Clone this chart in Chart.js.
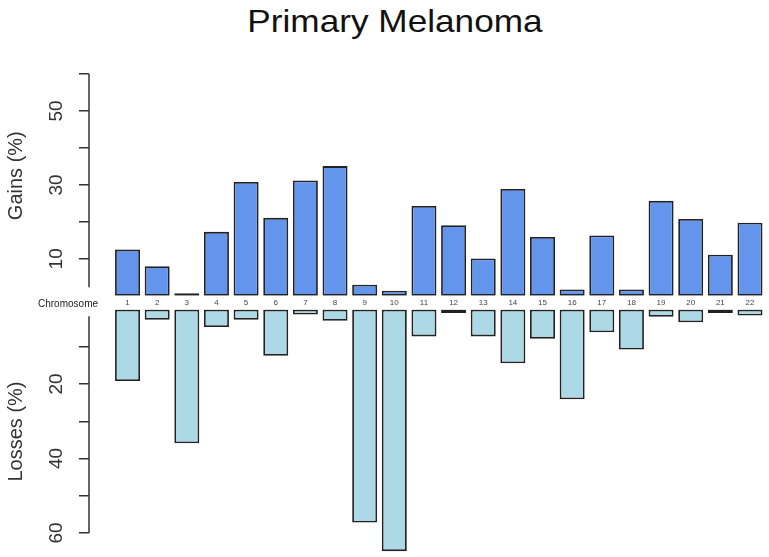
<!DOCTYPE html>
<html>
<head>
<meta charset="utf-8">
<script src="https://cdn.jsdelivr.net/npm/chart.js@4.4.1/dist/chart.umd.min.js"></script>
<style>
  html, body { margin: 0; padding: 0; background: #fff; }
  body { width: 769px; height: 557px; position: relative; overflow: hidden; font-family: "Liberation Sans", Arial, sans-serif; }
  #title { position: absolute; left: 0; top: 5px; width: 790px; text-align: center; font-size: 32px; line-height: 32px; color: #111; transform: scaleX(1.1); }
  #chromLabel { position: absolute; left: 38px; top: 299px; font-size: 10px; line-height: 10px; color: #222; }
  #gainsChart { position: absolute; left: 0; top: 0; }
  #lossesChart { position: absolute; left: 0; top: 300px; }
</style>
</head>
<body>
<div id="title">Primary Melanoma</div>
<canvas id="gainsChart" width="769" height="310"></canvas>
<canvas id="lossesChart" width="769" height="257"></canvas>
<div id="chromLabel">Chromosome</div>
<script>
const chromosomes = ['1', '2', '3', '4', '5', '6', '7', '8', '9', '10', '11',
  '12', '13', '14', '15', '16', '17', '18', '19', '20', '21', '22'];
const gains = [12.5, 8.0, 0.7, 17.3, 30.8, 21.1, 31.2, 35.1, 3.0, 1.4, 24.3,
  19.1, 10.1, 28.9, 15.9, 1.7, 16.3, 1.7, 25.7, 20.8, 11.1, 19.8];
const losses = [19.2, 2.7, 35.9, 4.7, 2.7, 12.4, 1.3, 3.0, 57.2, 64.9, 7.2,
  0.9, 7.2, 14.4, 7.8, 24.1, 6.1, 10.7, 1.9, 3.4, 0.9, 1.6];
const gainTicks = [10, 20, 30, 40, 50, 60];
const gainTickLabels = [10, 30, 50];
const lossTicks = [10, 20, 30, 40, 50, 60];
const lossTickLabels = [20, 40, 60];

const axisColor = '#333';

// R-style axis line that stops short of the zero line
const axisLine = {
  id: 'axisLine',
  afterDraw(chart, args, opts) {
    const y = chart.scales.y;
    const ctx = chart.ctx;
    ctx.save();
    ctx.strokeStyle = axisColor;
    ctx.lineWidth = 1.5;
    ctx.beginPath();
    ctx.moveTo(y.right, y.getPixelForValue(opts.from));
    ctx.lineTo(y.right, y.getPixelForValue(opts.to));
    ctx.stroke();
    ctx.restore();
  }
};

function makeChart(id, values, color, yOpts, showX, padding, lineRange) {
  const points = values.map((v, i) => ({ x: i + 1, y: v }));
  return new Chart(document.getElementById(id), {
    type: 'bar',
    data: {
      datasets: [{
        data: points,
        backgroundColor: color,
        borderColor: '#222',
        borderWidth: 1.8,
        borderSkipped: false,
        barPercentage: 0.843,
        categoryPercentage: 1
      }]
    },
    options: {
      responsive: false,
      animation: false,
      layout: { padding: padding },
      plugins: {
        legend: { display: false },
        tooltip: { enabled: false },
        axisLine: lineRange
      },
      scales: {
        x: {
          type: 'linear',
          min: -0.3,
          max: 22.55,
          offset: false,
          display: showX,
          grid: { display: false, drawTicks: false, offset: false },
          border: { display: false },
          afterBuildTicks: s => { s.ticks = chromosomes.map((c, i) => ({ value: i + 1 })); },
          ticks: {
            autoSkip: false,
            maxRotation: 0,
            padding: 2,
            color: '#444',
            font: { family: 'Liberation Sans', size: 8 },
            callback: (v, i) => chromosomes[i]
          }
        },
        y: {
          min: 0,
          max: yOpts.max,
          reverse: yOpts.reverse,
          afterBuildTicks: s => { s.ticks = yOpts.ticks.map(v => ({ value: v })); },
          afterFit: s => { s.width = 89; s.paddingTop = 0; s.paddingBottom = 0; },
          grid: { drawOnChartArea: false, drawTicks: true, tickLength: 10, color: axisColor, lineWidth: 1.5, offset: false },
          border: { display: false },
          ticks: {
            autoSkip: false,
            minRotation: 90,
            maxRotation: 90,
            crossAlign: 'center',
            padding: 11.5,
            color: axisColor,
            font: { family: 'Liberation Sans', size: 19 },
            callback: v => yOpts.labels.includes(v) ? String(v) : ''
          },
          title: {
            display: true,
            text: yOpts.title,
            color: axisColor,
            font: { family: 'Liberation Sans', size: 20 },
            padding: { top: 4, bottom: 0 }
          }
        }
      }
    },
    plugins: [axisLine]
  });
}

makeChart('gainsChart', gains, '#6495ED',
  { max: 65, reverse: false, ticks: gainTicks, labels: gainTickLabels, title: 'Gains (%)' },
  true, { top: 55.6, bottom: 0.6, left: 0, right: 2.7 }, { from: 2.3, to: 60 });

makeChart('lossesChart', losses, '#ADD8E6',
  { max: 65.5, reverse: true, ticks: lossTicks, labels: lossTickLabels, title: 'Losses (%)' },
  false, { top: 9.6, bottom: 3.6, left: 0, right: 2.7 }, { from: 1.8, to: 60 });
</script>
</body>
</html>
